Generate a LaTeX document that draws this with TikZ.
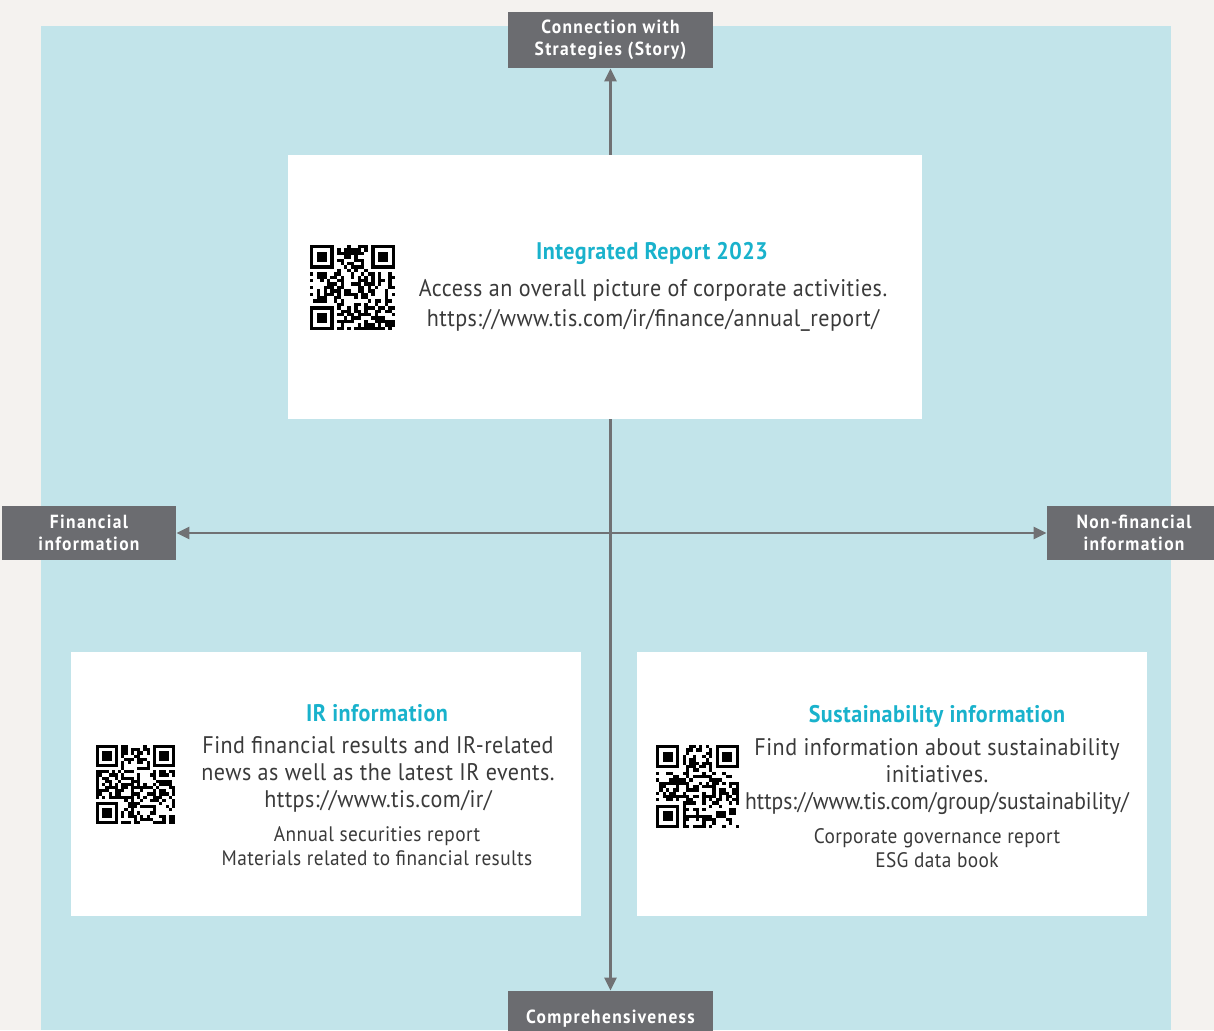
\documentclass[tikz,border=0pt]{standalone}
\usepackage{fontspec}
\setmainfont{PT Sans}[FakeStretch=0.92, LetterSpace=2]
\newfontfamily\tagfont{PT Sans}[FakeStretch=0.92, LetterSpace=7]
\newfontfamily\urlfont{PT Sans}[FakeStretch=0.9, LetterSpace=0]
\usetikzlibrary{arrows.meta, positioning}

\definecolor{paper}{HTML}{F4F2EF}
\definecolor{panel}{HTML}{C2E4EA}
\definecolor{tagbox}{HTML}{6B6C70}
\definecolor{axisgray}{HTML}{707174}
\definecolor{headcyan}{HTML}{19B2CC}
\definecolor{bodytext}{HTML}{3A3A3A}

% fake QR pattern: top-left corner, module size
\newcommand{\qrpatch}[3]{%
  \begin{scope}[shift={(#1,#2)}, x=#3, y=-#3]
    \foreach \i in {0,...,24}{
      \foreach \j in {0,...,24}{
        \pgfmathrandominteger{\bit}{0}{1}
        \pgfmathtruncatemacro{\keep}{((\i<8 && \j<8) || (\i>16 && \j<8) || (\i<8 && \j>16)) ? 0 : \bit}
        \ifnum\keep=1 \fill (\i,\j) rectangle ++(1,1); \fi
      }
    }
    \foreach \fx/\fy in {0/0, 18/0, 0/18}{
      \fill (\fx,\fy) rectangle ++(7,7);
      \fill[white] (\fx+1,\fy+1) rectangle ++(5,5);
      \fill (\fx+2,\fy+2) rectangle ++(3,3);
    }
  \end{scope}}

\begin{document}
\begin{tikzpicture}[x=0.5pt, y=-0.5pt,
  tag/.style={fill=tagbox, text=white, font=\tagfont\bfseries\fontsize{9.5}{10.8}\selectfont,
              align=center, inner sep=0pt},
  card/.style={fill=white, inner sep=0pt, minimum height=132pt},
  head/.style={text=headcyan, font=\bfseries\fontsize{12}{14}\selectfont},
  body/.style={text=bodytext, align=center, font=\fontsize{12}{13.5}\selectfont},
  small/.style={text=bodytext, align=center, font=\fontsize{10.5}{12}\selectfont},
  axis/.style={draw=axisgray, line width=1.3pt, {Triangle[length=6.5pt, width=6pt]}-{Triangle[length=6.5pt, width=6pt]}}]
\useasboundingbox (0,0) rectangle (1214,1030);
\fill[paper] (0,0) rectangle (1214,1030);
\fill[panel] (41,26) rectangle (1171,1030);

% axis labels
\node[tag, minimum width=102.5pt, minimum height=28pt] (conn) at (610.5,40) {Connection with\\Strategies (Story)};
\node[tag, minimum width=102.5pt, minimum height=28pt] (comp) at (610.5,1019) {Comprehensiveness};
\node[tag, minimum width=87pt, minimum height=27pt] (fin) at (89,533) {Financial\\information};
\node[tag, minimum width=87pt, minimum height=27pt] (nonfin) at (1134,533) {Non-financial\\information};

\draw[axis] (comp) -- (conn);
\draw[axis] (fin) -- (nonfin);

% cards
\node[card, minimum width=317pt] (report) at (605,287) {};
\node[card, minimum width=255pt] (ir) at (326,784) {};
\node[card, minimum width=255pt] (sus) at (892,784) {};

\node[head] (reporthead) at (652,253) {Integrated Report 2023};
\node[body, font=\fontsize{12}{15}\selectfont] (reporttext) at (653,305) {Access an overall picture of corporate activities.\\https://www.tis.com/ir/finance/annual\_report/};

\node[head] (irhead) at (377,713) {IR information};
\node[body] (irtext) at (378,774) {Find financial results and IR-related\\news as well as the latest IR events.\\https://www.tis.com/ir/};
\node[small] (irdocs) at (377,846) {Annual securities report\\Materials related to financial results};

\node[head] (sushead) at (937,716) {Sustainability information};
\node[body] (sustext) at (937,777) {Find information about sustainability\\initiatives.\\{\urlfont https://www.tis.com/group/sustainability/}};
\node[small] (susdocs) at (937,848) {Corporate governance report\\ESG data book};

% QR codes
\pgfmathsetseed{2023}
\qrpatch{310}{245}{1.7pt}
\qrpatch{96}{745}{1.58pt}
\qrpatch{656}{745}{1.66pt}

\end{tikzpicture}
\end{document}
